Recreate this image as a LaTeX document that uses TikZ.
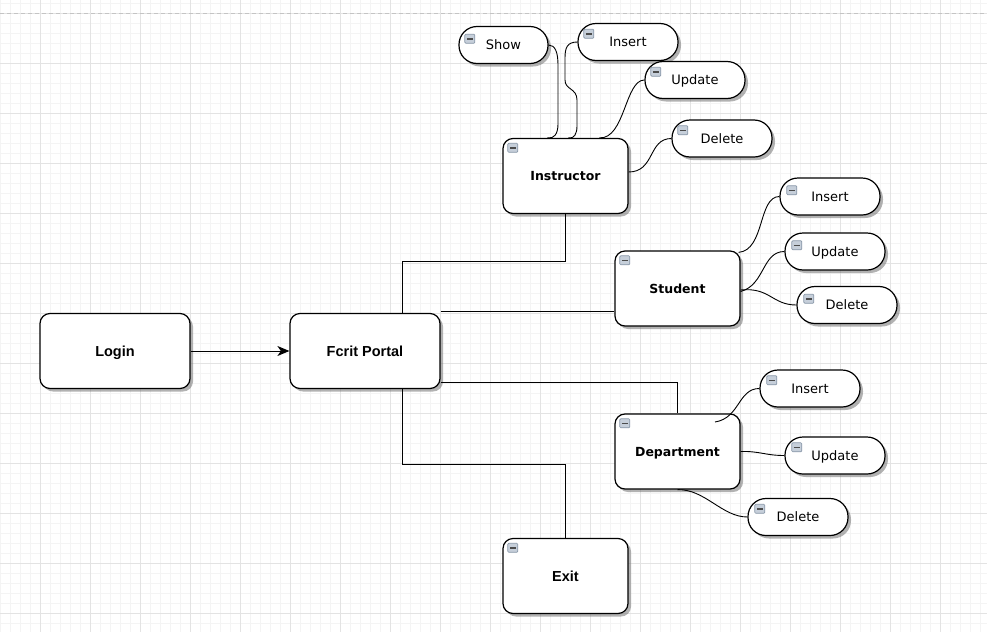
\documentclass[tikz,border=0pt]{standalone}
\usepackage{fontspec}
\setmainfont{DejaVu Sans}
\newfontfamily\arialfont{Liberation Sans}
\usetikzlibrary{arrows.meta,shadows}
\definecolor{minorgrid}{HTML}{F4F4F4}
\definecolor{majorgrid}{HTML}{E3E3E3}
\definecolor{dashgray}{HTML}{C4C4C4}
\definecolor{icofill}{HTML}{C6CFDA}
\definecolor{icodraw}{HTML}{8897A8}
\tikzset{
  shade box/.style={drop shadow={shadow xshift=3pt, shadow yshift=-3pt, fill=black!55, opacity=0.55}},
  box/.style={draw=black, line width=1.2pt, rounded corners=10pt, fill=white, inner sep=0pt,
    minimum width=125pt, minimum height=75pt, shade box, text depth=0pt},
  bigbox/.style={box, minimum width=150pt, minimum height=75pt},
  pill/.style={draw=black, line width=1.2pt, rounded corners=18pt, fill=white, inner sep=0pt,
    minimum width=100pt, minimum height=37pt, shade box, text depth=0pt, font=\fontsize{13}{15}\selectfont},
  cfont/.style={font=\bfseries\fontsize{12.5}{15}\selectfont},
  afont/.style={font=\arialfont\bfseries\fontsize{14.5}{17}\selectfont},
  link/.style={draw=black, line width=0.9pt},
  icon/.style={anchor=north west, draw=icodraw, fill=icofill, line width=0.7pt, rounded corners=1pt,
    minimum width=10pt, minimum height=9pt, inner sep=0pt,
    path picture={\draw[black!70, line width=1.5pt]
      ([xshift=2.2pt]path picture bounding box.west) -- ([xshift=-2.2pt]path picture bounding box.east);}}
}
\newcommand\minusicon[3]{\path (#2.north west) ++(#3) node[icon] (#1) {};}
\begin{document}
\begin{tikzpicture}[x=1pt,y=-1pt]
\useasboundingbox (0,0) rectangle (987,632);
\fill[white] (0,0) rectangle (987,632);
% grid
\foreach \x in {0,10,...,980} \draw[minorgrid, line width=0.7pt] (\x,0) -- (\x,632);
\foreach \y in {3,13,...,623} \draw[minorgrid, line width=0.7pt] (0,\y) -- (987,\y);
\foreach \x in {40,90,...,940} \draw[majorgrid, line width=0.8pt] (\x,0) -- (\x,632);
\foreach \y in {13,63,...,613} \draw[majorgrid, line width=0.8pt] (0,\y) -- (987,\y);
\draw[dashgray, line width=0.8pt, dash pattern=on 4pt off 3pt] (0,13) -- (987,13);

% main nodes
\node[bigbox, afont] (login) at (115,351) {Login};
\node[bigbox, afont] (fcrit) at (365,351) {Fcrit Portal};
\node[box, cfont] (instr) at (565.5,176) {Instructor};
\node[box, cfont] (stu) at (677.5,288.5) {Student};
\node[box, cfont] (dep) at (677.5,451.5) {Department};
\node[box, afont] (exit) at (565.5,576) {Exit};

% pills
\node[pill, minimum width=89pt] (show) at (503.5,45) {Show};
\node[pill] (ins1) at (628,42) {Insert};
\node[pill] (upd1) at (695,80) {Update};
\node[pill] (del1) at (722,138.5) {Delete};
\node[pill] (ins2) at (830,196.5) {Insert};
\node[pill] (upd2) at (835,251.5) {Update};
\node[pill] (del2) at (847,305) {Delete};
\node[pill] (ins3) at (810,388.5) {Insert};
\node[pill] (upd3) at (835,455.5) {Update};
\node[pill] (del3) at (798,517) {Delete};

% icons
\minusicon{ic-instr}{instr}{5,5}
\minusicon{ic-stu}{stu}{5,5}
\minusicon{ic-dep}{dep}{5,5}
\minusicon{ic-exit}{exit}{5,5}
\minusicon{ic-show}{show}{6,8}
\minusicon{ic-ins1}{ins1}{6,6}
\minusicon{ic-upd1}{upd1}{6,6}
\minusicon{ic-del1}{del1}{6,6}
\minusicon{ic-ins2}{ins2}{7,8}
\minusicon{ic-upd2}{upd2}{7,8}
\minusicon{ic-del2}{del2}{7,8}
\minusicon{ic-ins3}{ins3}{7,6}
\minusicon{ic-upd3}{upd3}{7,6}
\minusicon{ic-del3}{del3}{7,6}

% orthogonal links
\draw[link, -{Stealth[length=12pt,width=10pt,inset=3.5pt]}] (login.east) -- (fcrit.west);
\draw[link] ([xshift=37pt]fcrit.north) -- ++(0,-51) -| (instr.south);
\draw[link] ([yshift=1pt]fcrit.north east) -- ([yshift=1pt]stu.west |- fcrit.north east);
\draw[link] ([yshift=7pt]fcrit.south east) -| (dep.north);
\draw[link] ([xshift=37pt]fcrit.south) -- ++(0,75) -| (exit.north);

% instructor curves
\draw[link] (show.east) .. controls (555,45) and (558,52) .. (558,65) -- (558,124)
  .. controls (558,134) and (554,139) .. ([xshift=-18pt]instr.north);
\draw[link] (ins1.west) .. controls (567,42) and (565,48) .. (565,58) -- (565,80)
  .. controls (565,90) and (577,88) .. (577,100) -- (577,126)
  .. controls (577,134) and (574,139) .. ([xshift=3pt]instr.north);
\draw[link] (upd1.west) .. controls (625,80) and (625,139) .. ([xshift=34pt]instr.north);
\draw[link] ([yshift=4pt]instr.east) .. controls (655,172) and (648,138.5) .. (del1.west);

% student curves
\draw[link] ([xshift=-2pt,yshift=-2pt]stu.north east) .. controls (765,250) and (758,196.5) .. (ins2.west);
\draw[link] ([yshift=-3pt]stu.east) .. controls (765,285) and (762,251.5) .. (upd2.west);
\draw[link] ([yshift=-1.5pt]stu.east) .. controls (770,287) and (772,305) .. (del2.west);

% department curves
\draw[link] (715,422) .. controls (740,418) and (738,388.5) .. (ins3.west);
\draw[link] (dep.east) .. controls (760,451) and (765,455.5) .. (upd3.west);
\draw[link] (dep.south) .. controls (705,489) and (722,517) .. (del3.west);
\end{tikzpicture}
\end{document}
